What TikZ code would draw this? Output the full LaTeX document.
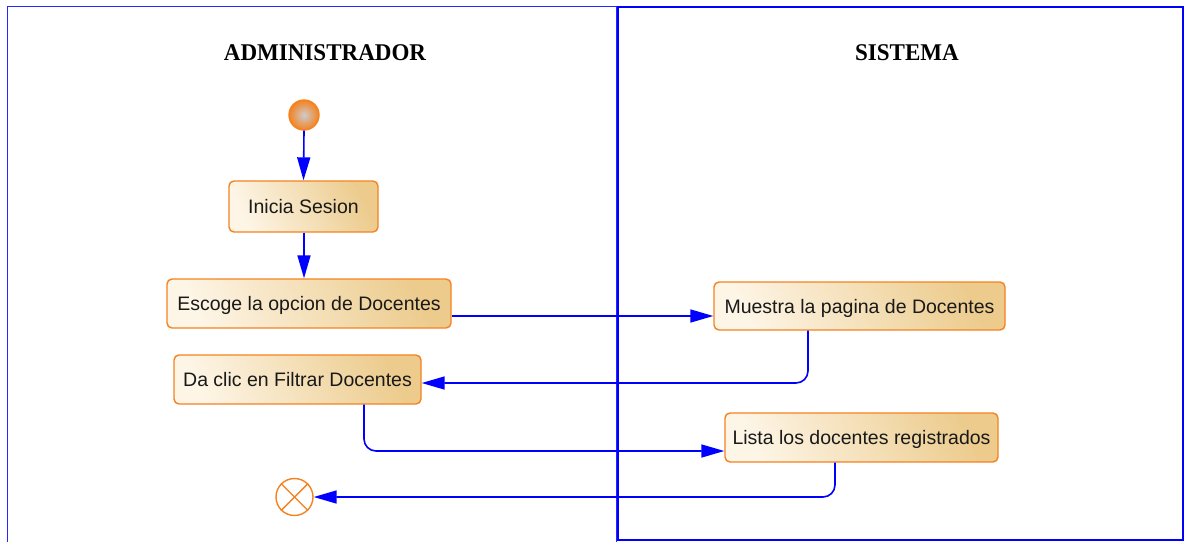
\documentclass[tikz,border=0pt]{standalone}
\usepackage{fontspec}
\setmainfont{Liberation Serif}
\newfontfamily\boxfont{Liberation Sans}
\usetikzlibrary{arrows.meta,positioning}
\definecolor{orab}{RGB}{245,130,32}
\definecolor{lanblue}{RGB}{0,0,255}
\definecolor{boxlight}{RGB}{253,245,230}
\definecolor{boxdark}{RGB}{236,203,140}
\definecolor{txt}{RGB}{25,25,25}
\tikzset{
  actbox/.style={draw=orab, line width=1.4pt, rounded corners=5pt,
    left color=boxlight, right color=boxdark, shading angle=115,
    font=\boxfont\fontsize{19.5}{22}\selectfont, text=txt,
    inner sep=0pt, align=center, text height=14pt, text depth=0pt},
  flow/.style={draw=lanblue, line width=1.6pt, -{Triangle[length=23pt,width=13pt]}, rounded corners=12pt},
  lanetitle/.style={font=\bfseries\fontsize{24}{26}\selectfont, text=black, inner sep=0pt},
}
\begin{document}
\begin{tikzpicture}[x=1pt,y=-1pt]
\useasboundingbox (0,0) rectangle (1186,542);
% lanes
\draw[lanblue!85!white, line width=0.9pt] (7,542) -- (7,6) -- (616,6) -- (616,542);
\draw[lanblue, line width=1.8pt] (618,7) rectangle (1183,540);
\node[lanetitle] (tadmin) at (325,53) {\scalebox{0.96}[1]{ADMINISTRADOR}};
\node[lanetitle] (tsis) at (907,53) {\scalebox{0.96}[1]{SISTEMA}};
% start
\node[circle, draw=orab, line width=1.4pt, minimum size=30pt, inner sep=0pt,
      shading=radial, inner color=gray!40!white, outer color=orab] (start) at (304,115) {};
% activities
\node[actbox, minimum width=149pt, minimum height=51pt] (inicia) at (303.5,206.5) {Inicia Sesion};
\node[actbox, minimum width=284pt, minimum height=49pt] (escoge) at (309,303.5) {Escoge la opcion de Docentes};
\node[actbox, minimum width=247pt, minimum height=49pt] (daclic) at (297.5,379.5) {Da clic en Filtrar Docentes};
\node[actbox, minimum width=291pt, minimum height=48pt] (muestra) at (859.5,306) {Muestra la pagina de Docentes};
\node[actbox, minimum width=273pt, minimum height=49pt] (lista) at (861.5,437.5) {Lista los docentes registrados};
% end
\node[circle, draw=orab, line width=1.4pt, minimum size=37pt, inner sep=0pt, fill=white] (fin) at (294.5,497) {};
\draw[orab, line width=1.4pt] (fin.north west) -- (fin.south east);
\draw[orab, line width=1.4pt] (fin.north east) -- (fin.south west);
% connectors
\draw[flow] (start.south) -- (inicia.north);
\draw[flow] ([xshift=0.5pt]inicia.south) -- ([xshift=0.5pt]inicia.south |- escoge.north);
\draw[flow] ([yshift=-12.5pt]escoge.east) -- ([yshift=-12.5pt]escoge.east -| muestra.west);
\draw[flow] ([xshift=-51.5pt]muestra.south) |- ([yshift=-3.5pt]daclic.east);
\draw[flow] ([xshift=66.5pt]daclic.south) |- ([yshift=-13.5pt]lista.west);
\draw[flow] ([xshift=-26.5pt]lista.south) |- (fin.east);
\end{tikzpicture}
\end{document}
